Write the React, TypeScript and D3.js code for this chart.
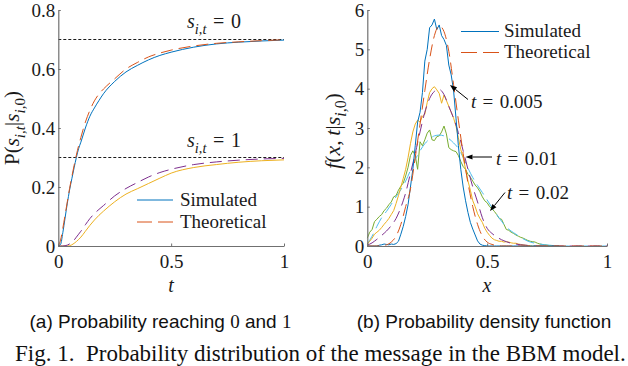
import { useRef, useEffect } from 'react';
import * as d3 from 'd3';

// ---- (a) probability of reaching 0 and 1 ----
const tValues = [0, 0.01, 0.02, 0.03, 0.04, 0.05, 0.06, 0.07, 0.08, 0.09, 0.1, 0.12, 0.14, 0.16, 0.18, 0.2,
  0.25, 0.3, 0.35, 0.4, 0.45, 0.5, 0.6, 0.7, 0.8, 0.9, 1.0];
const simReach0 = [0, 0.005, 0.045, 0.095, 0.145, 0.19, 0.228, 0.265, 0.3, 0.33, 0.352, 0.4, 0.44, 0.468, 0.493, 0.516,
  0.558, 0.59, 0.612, 0.631, 0.646, 0.657, 0.674, 0.685, 0.691, 0.695, 0.698];
const theoReach0 = [0, 0.02, 0.06, 0.105, 0.15, 0.195, 0.235, 0.273, 0.308, 0.34, 0.368, 0.42, 0.46, 0.492, 0.515, 0.532,
  0.567, 0.6, 0.622, 0.641, 0.654, 0.664, 0.678, 0.687, 0.692, 0.696, 0.699];
const simReach1 = [0, 0, 0, 0, 0, 0.001, 0.004, 0.009, 0.015, 0.022, 0.03, 0.05, 0.07, 0.088, 0.104, 0.118,
  0.15, 0.176, 0.194, 0.212, 0.23, 0.247, 0.266, 0.276, 0.284, 0.289, 0.292];
const theoReach1 = [0, 0, 0, 0.001, 0.003, 0.007, 0.013, 0.02, 0.03, 0.04, 0.05, 0.072, 0.093, 0.11, 0.124, 0.137,
  0.17, 0.195, 0.215, 0.234, 0.249, 0.26, 0.276, 0.285, 0.291, 0.295, 0.297];
const limitLevels = [0.7, 0.3];
const yTicksA = [0, 0.2, 0.4, 0.6, 0.8];

// ---- (b) probability density function ----
const xSim = d3.range(81).map(i => i / 100);
const xTheo = d3.range(51).map(i => i / 50);
const simT005 = [0, 0, 0, 0, 0, 0.02, 0.03, 0.05, 0.04, 0.03,
  0.05, 0.04, 0.06, 0.12, 0.3, 0.5, 0.75, 1.05, 1.5, 1.95,
  2.55, 3.15, 3.4, 3.9, 4.7, 5.0, 5.55, 5.62, 5.77, 5.5,
  5.62, 5.35, 5.25, 5.1, 4.6, 4.35, 3.95, 3.25, 2.55, 1.95,
  1.5, 1.15, 0.85, 0.6, 0.43, 0.28, 0.13, 0.05, 0.02, 0.01,
  0, 0, 0, 0, 0, 0, 0, 0, 0, 0,
  0, 0, 0, 0, 0, 0, 0, 0, 0, 0,
  0, 0, 0, 0, 0, 0, 0, 0, 0, 0, 0];
const simT01 = [0.05, 0.12, 0.2, 0.3, 0.35, 0.4, 0.47, 0.55, 0.62, 0.7,
  0.8, 0.9, 1.08, 1.28, 1.5, 1.72, 1.95, 2.25, 2.6, 2.9,
  3.1, 3.2, 3.15, 3.3, 3.35, 3.65, 3.9, 4.0, 4.05, 3.97,
  3.88, 3.63, 3.84, 3.7, 3.55, 3.4, 3.25, 3.05, 2.75, 2.45,
  2.25, 1.95, 1.65, 1.42, 1.15, 1.0, 0.82, 0.7, 0.6, 0.45,
  0.35, 0.27, 0.2, 0.16, 0.14, 0.12, 0.12, 0.1, 0.11, 0.1,
  0.08, 0.07, 0.07, 0.05, 0.04, 0.03, 0.02, 0.01, 0.01, 0,
  0, 0, 0, 0, 0, 0, 0, 0, 0, 0, 0];
const simT02 = [0.2, 0.35, 0.42, 0.62, 0.68, 0.75, 0.8, 0.9, 0.96, 1.05,
  1.12, 1.25, 1.28, 1.42, 1.52, 1.6, 1.78, 2.0, 2.3, 2.42,
  2.3, 1.95, 2.65, 2.55, 2.7, 2.87, 2.95, 2.7, 2.68, 2.78,
  2.8, 2.9, 3.05, 2.85, 2.5, 2.45, 2.42, 2.4, 2.3, 2.15,
  2.02, 1.95, 1.82, 1.75, 1.65, 1.55, 1.48, 1.38, 1.25, 1.15,
  1.1, 1.0, 0.95, 0.88, 0.8, 0.7, 0.68, 0.55, 0.42, 0.4,
  0.35, 0.32, 0.28, 0.25, 0.22, 0.2, 0.17, 0.14, 0.12, 0.11,
  0.1, 0.07, 0.05, 0.04, 0.03, 0.02, 0.01, 0.01, 0, 0, 0];
const theoT005 = [0, 0, 0, 0.01, 0.03, 0.1, 0.25, 0.55, 1.0, 1.45,
  2.25, 3.1, 3.95, 4.75, 5.35, 5.6, 5.45, 4.95, 4.1, 3.2,
  2.35, 1.6, 1.0, 0.55, 0.25, 0.1, 0.04, 0.01, 0, 0,
  0, 0, 0, 0, 0, 0, 0, 0, 0, 0,
  0, 0, 0, 0, 0, 0, 0, 0, 0, 0, 0];
const theoT01 = [0.02, 0.08, 0.17, 0.27, 0.38, 0.52, 0.7, 0.98, 1.35, 1.85,
  2.35, 2.9, 3.4, 3.75, 3.93, 3.98, 3.85, 3.55, 3.25, 2.88,
  2.42, 1.95, 1.5, 1.12, 0.72, 0.45, 0.32, 0.23, 0.16, 0.11,
  0.07, 0.05, 0.03, 0.02, 0.01, 0, 0, 0, 0, 0,
  0, 0, 0, 0, 0, 0, 0, 0, 0, 0, 0];
const theoT02 = [0.05, 0.25, 0.5, 0.72, 0.88, 1.06, 1.25, 1.43, 1.65, 1.92,
  2.2, 2.42, 2.6, 2.72, 2.8, 2.82, 2.8, 2.73, 2.62, 2.48,
  2.25, 1.98, 1.74, 1.54, 1.36, 1.17, 0.98, 0.8, 0.63, 0.48,
  0.38, 0.3, 0.22, 0.15, 0.1, 0.07, 0.05, 0.03, 0.02, 0.01,
  0, 0, 0, 0, 0, 0, 0, 0, 0, 0, 0];
const yTicksB = [0, 1, 2, 3, 4, 5, 6];
const xTicks = [0, 0.5, 1];

const serif = '"Liberation Serif", "Times New Roman", serif';
const sans = '"Liberation Sans", Arial, sans-serif';
const ink = '#1a1a1a';
const axisColor = '#707070';
const c = {
  blue: '#0072BD', orange: '#D95319', yellow: '#EDB120',
  purple: '#7E2F8E', green: '#77AC30', cyan: '#4DBEEE',
};
const dash = '12,6';
const eq = '\u2004=\u2004';

// text with italic / subscript pieces: [text, flags] where flags has 'i' and/or 's'
function mathText(parent, x, y, segs, size, anchor = 'start', rotate = 0) {
  const text = parent.append('text')
    .attr('transform', `translate(${x},${y}) rotate(${rotate})`)
    .attr('text-anchor', anchor)
    .attr('font-family', serif)
    .attr('font-size', size)
    .attr('fill', ink)
    .style('white-space', 'pre');
  let down = false;
  segs.forEach(([s, f = '']) => {
    const sub = f.includes('s');
    const ts = text.append('tspan').text(s)
      .attr('font-style', f.includes('i') ? 'italic' : 'normal')
      .attr('font-size', sub ? size * 0.72 : size);
    if (sub !== down) {
      ts.attr('dy', sub ? size * 0.28 : -size * 0.28);
      down = sub;
    }
  });
  return text;
}

function arrow(g, x1, y1, x2, y2) {
  const a = Math.atan2(y2 - y1, x2 - x1);
  const len = 7, half = 2.6;
  const bx = x2 - len * Math.cos(a), by = y2 - len * Math.sin(a);
  g.append('line')
    .attr('x1', x1).attr('y1', y1).attr('x2', bx).attr('y2', by)
    .attr('stroke', '#000').attr('stroke-width', 1);
  g.append('path')
    .attr('d', `M${x2},${y2}L${bx + half * Math.sin(a)},${by - half * Math.cos(a)}L${bx - half * Math.sin(a)},${by + half * Math.cos(a)}Z`)
    .attr('fill', '#000');
}

function drawAxes(g, x, y, yTicks) {
  const fmt = d => String(d);
  const ax = g.append('g')
    .attr('transform', `translate(0,${y.range()[0]})`)
    .call(d3.axisBottom(x).tickValues(xTicks).tickFormat(fmt).tickSize(-2.5).tickSizeOuter(0).tickPadding(9));
  const ay = g.append('g')
    .attr('transform', `translate(${x.range()[0]},0)`)
    .call(d3.axisLeft(y).tickValues(yTicks).tickFormat(fmt).tickSize(-2.5).tickSizeOuter(0).tickPadding(3));
  [ax, ay].forEach(a => {
    a.select('.domain').attr('stroke', axisColor).attr('stroke-width', 1.2);
    a.selectAll('.tick line').attr('stroke', axisColor);
    a.selectAll('.tick text')
      .attr('font-family', serif).attr('font-size', 19).attr('fill', ink);
  });
}

function Figure() {
  const ref = useRef(null);

  useEffect(() => {
    d3.select(ref.current).selectAll('*').remove();
    const svg = d3.select(ref.current);
    svg.append('rect').attr('width', 628).attr('height', 366).attr('fill', '#fff');

    // ---------- panel (a) ----------
    const gA = svg.append('g');
    const xA = d3.scaleLinear().domain([0, 1]).range([58.3, 284]);
    const yA = d3.scaleLinear().domain([0, 0.8]).range([246, 10]);

    gA.selectAll('.limit')
      .data(limitLevels)
      .enter().append('line')
      .attr('x1', xA(0)).attr('x2', xA(1))
      .attr('y1', d => yA(d)).attr('y2', d => yA(d))
      .attr('stroke', '#000').attr('stroke-width', 0.9).attr('stroke-dasharray', '3,2');

    const lineA = d3.line().x((d, i) => xA(tValues[i])).y(d => yA(d)).curve(d3.curveMonotoneX);
    const seriesA = [
      { v: simReach1, col: c.yellow, dashed: false },
      { v: theoReach1, col: c.purple, dashed: true },
      { v: simReach0, col: c.blue, dashed: false },
      { v: theoReach0, col: c.orange, dashed: true },
    ];
    seriesA.forEach(s => {
      gA.append('path').attr('d', lineA(s.v)).attr('fill', 'none')
        .attr('stroke', s.col).attr('stroke-width', 1)
        .attr('stroke-dasharray', s.dashed ? dash : null);
    });

    drawAxes(gA, xA, yA, yTicksA);

    mathText(gA, 187, 28, [['s', 'i'], ['i,t', 'is'], [eq + '0']], 20);
    mathText(gA, 187, 147, [['s', 'i'], ['i,t', 'is'], [eq + '1']], 20);

    // legend (a)
    gA.append('line').attr('x1', 137).attr('x2', 173).attr('y1', 200).attr('y2', 200)
      .attr('stroke', c.blue).attr('stroke-width', 1);
    gA.append('line').attr('x1', 137).attr('x2', 173).attr('y1', 222).attr('y2', 222)
      .attr('stroke', c.orange).attr('stroke-width', 1).attr('stroke-dasharray', '15,6');
    gA.append('text').attr('x', 180).attr('y', 206).text('Simulated')
      .attr('font-family', serif).attr('font-size', 19).attr('fill', ink);
    gA.append('text').attr('x', 180).attr('y', 228).text('Theoretical')
      .attr('font-family', serif).attr('font-size', 19).attr('fill', ink);

    mathText(gA, 19, 128, [['P('], ['s', 'i'], ['i,t', 'is'], ['|'], ['s', 'i'], ['i,', 'is'], ['0', 's'], [')']], 21, 'middle', -90);
    mathText(gA, 171, 292, [['t', 'i']], 20, 'middle');

    // ---------- panel (b) ----------
    const gB = svg.append('g');
    const xB = d3.scaleLinear().domain([0, 1]).range([367.3, 607]);
    const yB = d3.scaleLinear().domain([0, 6]).range([246, 10]);

    const simLine = d3.line().x((d, i) => xB(xSim[i])).y(d => yB(d));
    const theoLine = d3.line().x((d, i) => xB(xTheo[i])).y(d => yB(d)).curve(d3.curveMonotoneX);
    const seriesB = [
      { v: simT02, col: c.green, gen: simLine, dashed: false },
      { v: theoT02, col: c.cyan, gen: theoLine, dashed: true },
      { v: simT01, col: c.yellow, gen: simLine, dashed: false },
      { v: theoT01, col: c.purple, gen: theoLine, dashed: true },
      { v: simT005, col: c.blue, gen: simLine, dashed: false },
      { v: theoT005, col: c.orange, gen: theoLine, dashed: true },
    ];
    seriesB.forEach(s => {
      gB.append('path').attr('d', s.gen(s.v)).attr('fill', 'none')
        .attr('stroke', s.col).attr('stroke-width', 1)
        .attr('stroke-linejoin', 'round')
        .attr('stroke-dasharray', s.dashed ? dash : null);
    });

    drawAxes(gB, xB, yB, yTicksB);

    // legend (b)
    gB.append('line').attr('x1', 461).attr('x2', 499).attr('y1', 31.5).attr('y2', 31.5)
      .attr('stroke', c.blue).attr('stroke-width', 1);
    gB.append('line').attr('x1', 461).attr('x2', 499).attr('y1', 52.5).attr('y2', 52.5)
      .attr('stroke', c.orange).attr('stroke-width', 1).attr('stroke-dasharray', '16,6');
    gB.append('text').attr('x', 504).attr('y', 37).text('Simulated')
      .attr('font-family', serif).attr('font-size', 19).attr('fill', ink);
    gB.append('text').attr('x', 504).attr('y', 58).text('Theoretical')
      .attr('font-family', serif).attr('font-size', 19).attr('fill', ink);

    // annotations
    arrow(gB, 468, 99.5, 450, 85);
    mathText(gB, 471, 108, [['t', 'i'], [eq + '0.005']], 19);
    arrow(gB, 492, 157, 465.5, 157);
    mathText(gB, 496, 165, [['t', 'i'], [eq + '0.01']], 19);
    arrow(gB, 505, 192.5, 490, 211);
    mathText(gB, 507, 198.5, [['t', 'i'], [eq + '0.02']], 19);

    mathText(gB, 340, 131, [['f', 'i'], ['('], ['x', 'i'], [',\u2009'], ['t', 'i'], ['|'], ['s', 'i'], ['i,', 'is'], ['0', 's'], [')']], 22, 'middle', -90);
    mathText(gB, 487, 292, [['x', 'i']], 20, 'middle');

    // ---------- captions ----------
    const capA = svg.append('text').attr('x', 160.5).attr('y', 328).attr('text-anchor', 'middle')
      .attr('font-family', sans).attr('font-size', 19).attr('fill', '#111').style('white-space', 'pre');
    capA.append('tspan').text('(a) Probability reaching ');
    capA.append('tspan').text('0').attr('font-family', serif);
    capA.append('tspan').text(' and ');
    capA.append('tspan').text('1').attr('font-family', serif);

    svg.append('text').attr('x', 484).attr('y', 328).attr('text-anchor', 'middle')
      .attr('font-family', sans).attr('font-size', 19).attr('fill', '#111')
      .text('(b) Probability density function');

    svg.append('text').attr('x', 15).attr('y', 361)
      .attr('font-family', serif).attr('font-size', 23).attr('fill', '#111')
      .style('white-space', 'pre')
      .text('Fig. 1.  Probability distribution of the message in the BBM model.');
  }, []);

  return <svg ref={ref} width={628} height={366} style={{ position: 'absolute', left: 0, top: 0 }} />;
}

export default function App() {
  return <Figure />;
}
